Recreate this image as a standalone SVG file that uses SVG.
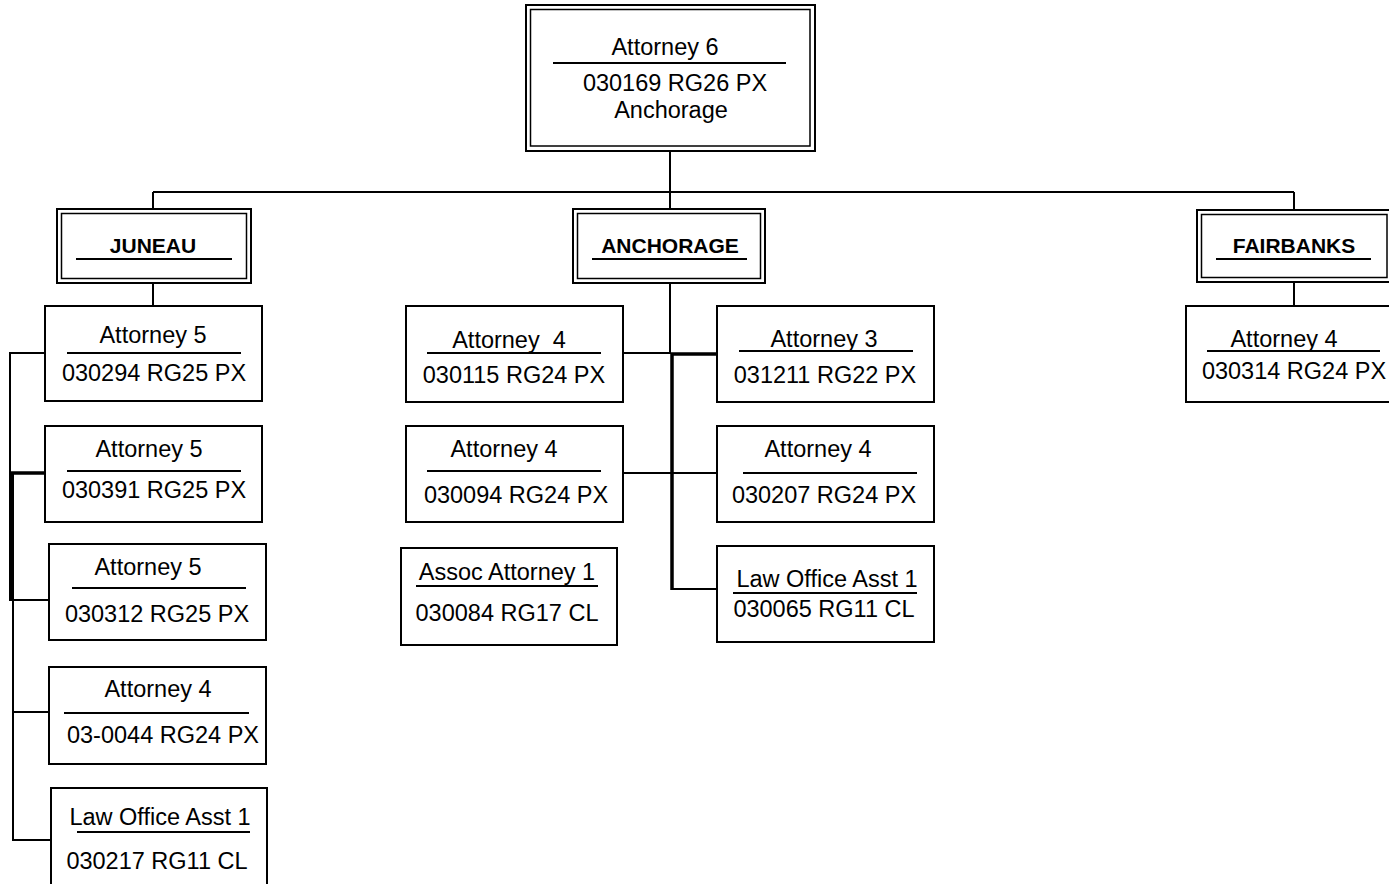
<svg xmlns="http://www.w3.org/2000/svg" width="1389" height="884" viewBox="0 0 1389 884">
<style>
.bx{fill:#fff;stroke:#000;stroke-width:2}
.in{fill:none;stroke:#000;stroke-width:1.5}
.ul{stroke:#000;stroke-width:1.8}
.t{font-family:"Liberation Sans",Arial,sans-serif;font-size:23.5px;fill:#000;text-anchor:middle}
.b{font-family:"Liberation Sans",Arial,sans-serif;font-size:21px;font-weight:bold;fill:#000;text-anchor:middle}
.c{fill:none;stroke:#000;stroke-width:2}
.ck{fill:none;stroke:#000;stroke-width:3.5}
</style>
<rect width="1389" height="884" fill="#fff"/>
<g id="connectors">
<path class="c" d="M670 151V192M153 192H1294M153 192V209M670 192V209M1294 192V210"/>
<path class="c" d="M153 283V306M1294 282V306"/>
<path class="c" d="M45 353H10V600H50M13 473V840H52M13 712H50"/>
<path class="ck" d="M50 473H11V600"/>
<path class="c" d="M670 283V353H622M622 473H718M672 589H717"/>
<path class="ck" d="M718 354H672V590"/>
</g>
<g id="top">
<rect class="bx" x="526" y="5" width="289" height="146"/>
<rect class="in" x="530.5" y="9.5" width="279.5" height="136.5"/>
<text class="t" x="665" y="55">Attorney 6</text>
<line class="ul" x1="553" y1="63" x2="786" y2="63"/>
<text class="t" x="675" y="91">030169 RG26 PX</text>
<text class="t" x="671" y="118">Anchorage</text>
</g>
<g id="juneau">
<rect class="bx" x="57" y="209" width="194" height="74"/>
<rect class="in" x="61.5" y="213.5" width="185" height="65"/>
<text class="b" x="153" y="253">JUNEAU</text>
<line class="ul" x1="76" y1="259" x2="232" y2="259"/>
</g>
<g id="anchorage">
<rect class="bx" x="573" y="209" width="192" height="74"/>
<rect class="in" x="577.5" y="213.5" width="183" height="65"/>
<text class="b" x="670" y="253">ANCHORAGE</text>
<line class="ul" x1="592" y1="259" x2="747" y2="259"/>
</g>
<g id="fairbanks">
<rect class="bx" x="1197" y="210" width="200" height="72"/>
<rect class="in" x="1201.5" y="214.5" width="185.5" height="63"/>
<text class="b" x="1294" y="253">FAIRBANKS</text>
<line class="ul" x1="1216" y1="259" x2="1371" y2="259"/>
</g>
<g id="j1">
<rect class="bx" x="45" y="306" width="217" height="95"/>
<text class="t" x="153" y="343">Attorney 5</text>
<line class="ul" x1="67" y1="353" x2="241" y2="353"/>
<text class="t" x="154" y="381">030294 RG25 PX</text>
</g>
<g id="j2">
<rect class="bx" x="45" y="426" width="217" height="96"/>
<text class="t" x="149" y="457">Attorney 5</text>
<line class="ul" x1="67" y1="471" x2="241" y2="471"/>
<text class="t" x="154" y="498">030391 RG25 PX</text>
</g>
<g id="j3">
<rect class="bx" x="49" y="544" width="217" height="96"/>
<text class="t" x="148" y="575">Attorney 5</text>
<line class="ul" x1="72" y1="588" x2="246" y2="588"/>
<text class="t" x="157" y="622">030312 RG25 PX</text>
</g>
<g id="j4">
<rect class="bx" x="49" y="667" width="217" height="97"/>
<text class="t" x="158" y="697">Attorney 4</text>
<line class="ul" x1="64" y1="713" x2="249" y2="713"/>
<text class="t" x="163" y="743">03-0044 RG24 PX</text>
</g>
<g id="j5">
<rect class="bx" x="51" y="788" width="216" height="110"/>
<text class="t" x="160" y="825">Law Office Asst 1</text>
<line class="ul" x1="77" y1="832" x2="250" y2="832"/>
<text class="t" x="157" y="869">030217 RG11 CL</text>
</g>
<g id="a1">
<rect class="bx" x="406" y="306" width="217" height="96"/>
<text class="t" x="509" y="348" style="white-space:pre">Attorney  4</text>
<line class="ul" x1="427" y1="353" x2="601" y2="353"/>
<text class="t" x="514" y="383">030115 RG24 PX</text>
</g>
<g id="a2">
<rect class="bx" x="406" y="426" width="217" height="96"/>
<text class="t" x="504" y="457">Attorney 4</text>
<line class="ul" x1="427" y1="471" x2="601" y2="471"/>
<text class="t" x="516" y="503">030094 RG24 PX</text>
</g>
<g id="a3">
<rect class="bx" x="401" y="548" width="216" height="97"/>
<text class="t" x="507" y="580">Assoc Attorney 1</text>
<line class="ul" x1="416" y1="586" x2="598" y2="586"/>
<text class="t" x="507" y="621">030084 RG17 CL</text>
</g>
<g id="b1">
<rect class="bx" x="717" y="306" width="217" height="96"/>
<text class="t" x="824" y="347">Attorney 3</text>
<line class="ul" x1="739" y1="351" x2="913" y2="351"/>
<text class="t" x="825" y="383">031211 RG22 PX</text>
</g>
<g id="b2">
<rect class="bx" x="717" y="426" width="217" height="96"/>
<text class="t" x="818" y="457">Attorney 4</text>
<line class="ul" x1="743" y1="473" x2="917" y2="473"/>
<text class="t" x="824" y="503">030207 RG24 PX</text>
</g>
<g id="b3">
<rect class="bx" x="717" y="546" width="217" height="96"/>
<text class="t" x="827" y="587">Law Office Asst 1</text>
<line class="ul" x1="733" y1="593" x2="917" y2="593"/>
<text class="t" x="824" y="617">030065 RG11 CL</text>
</g>
<g id="f1">
<rect class="bx" x="1186" y="306" width="220" height="96"/>
<text class="t" x="1284" y="347">Attorney 4</text>
<line class="ul" x1="1207" y1="351" x2="1380" y2="351"/>
<text class="t" x="1294" y="379">030314 RG24 PX</text>
</g>
</svg>
